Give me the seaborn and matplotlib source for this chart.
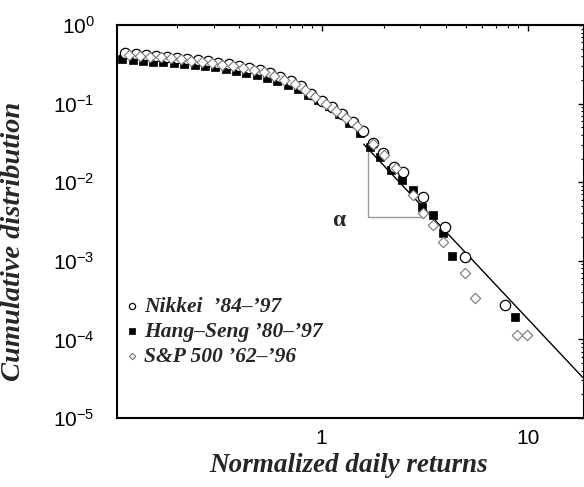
import numpy as np
import pandas as pd
import matplotlib
matplotlib.use("Agg")
import matplotlib.pyplot as plt
import seaborn as sns
from matplotlib.ticker import NullFormatter, LogLocator

# ---------------- data ----------------
nikkei_x = [0.112, 0.126, 0.141, 0.158, 0.178, 0.200, 0.224, 0.251, 0.282, 0.316,
            0.355, 0.398, 0.447, 0.501, 0.562, 0.631, 0.708, 0.794, 0.891, 1.0,
            1.122, 1.259, 1.413, 1.585, 1.778, 1.995, 2.239, 2.49, 3.11, 3.97,
            4.96, 7.74]
nikkei_y = [0.440, 0.428, 0.415, 0.403, 0.392, 0.380, 0.369, 0.359, 0.348, 0.329,
            0.319, 0.301, 0.284, 0.268, 0.245, 0.218, 0.194, 0.168, 0.132, 0.108,
            0.0905, 0.0738, 0.0583, 0.0448, 0.0315, 0.0235, 0.0156, 0.0135, 0.00648, 0.00269,
            0.00112, 0.000274]

hangseng_x = [0.108, 0.122, 0.136, 0.153, 0.171, 0.193, 0.216, 0.243, 0.272, 0.305,
              0.343, 0.385, 0.432, 0.484, 0.543, 0.610, 0.684, 0.767, 0.861, 0.966,
              1.084, 1.216, 1.365, 1.531, 1.718, 1.928, 2.163, 2.46, 2.78, 3.07,
              3.48, 3.88, 4.30, 8.65]
hangseng_y = [0.369, 0.359, 0.348, 0.342, 0.334, 0.329, 0.319, 0.310, 0.301, 0.292,
              0.275, 0.260, 0.245, 0.231, 0.212, 0.194, 0.172, 0.153, 0.129, 0.111,
              0.0932, 0.0738, 0.0567, 0.0423, 0.0281, 0.0209, 0.0143, 0.0107, 0.00796, 0.00483,
              0.00383, 0.00226, 0.00115, 0.000193]

sp500_x = [0.117, 0.132, 0.148, 0.166, 0.186, 0.209, 0.234, 0.263, 0.295, 0.331,
           0.372, 0.417, 0.468, 0.525, 0.589, 0.661, 0.741, 0.832, 0.933, 1.047,
           1.175, 1.318, 1.479, 1.78, 2.0, 2.3, 2.78, 3.11, 3.48, 3.88,
           4.96, 5.55, 8.86, 9.90]
sp500_y = [0.421, 0.409, 0.397, 0.386, 0.375, 0.364, 0.353, 0.343, 0.329, 0.314,
           0.301, 0.284, 0.268, 0.249, 0.224, 0.200, 0.175, 0.149, 0.121, 0.0989,
           0.0805, 0.0656, 0.0519, 0.0305, 0.022, 0.0150, 0.00687, 0.00406, 0.00285, 0.00173,
           0.000700, 0.000336, 0.000114, 0.000114]

fit_x = [1.6, 18.4]
fit_y = [0.0305, 3.3e-5]

triangle_x = [1.67, 1.67, 3.07]
triangle_y = [0.0257, 0.0036, 0.0036]

series_labels = ["Nikkei  \u201984\u2013\u201997",
                 "Hang\u2013Seng \u201980\u2013\u201997",
                 "S&P 500 \u201962\u2013\u201996"]
ytick_values = [1e0, 1e-1, 1e-2, 1e-3, 1e-4, 1e-5]
ytick_labels = [r"$\mathregular{10^{0}}$", r"$\mathregular{10^{-1}}$", r"$\mathregular{10^{-2}}$",
                r"$\mathregular{10^{-3}}$", r"$\mathregular{10^{-4}}$", r"$\mathregular{10^{-5}}$"]
xtick_values = [1, 10]
xtick_labels = ["1", "10"]
x_title = "Normalized daily returns"
y_title = "Cumulative distribution"
alpha_label = "\u03b1"

# ---------------- style ----------------
sns.set_theme(style="white")
plt.rcParams["font.family"] = ["Liberation Sans", "DejaVu Sans"]
plt.rcParams["mathtext.fontset"] = "custom"
plt.rcParams["mathtext.rm"] = "Liberation Sans"

fig = plt.figure(figsize=(5.84, 4.87), dpi=100)
ax = fig.add_axes([117 / 584, 1 - 418 / 487, (583.5 - 117) / 584, (418 - 25) / 487])
ax.set_xscale("log")
ax.set_yscale("log")

serif = dict(family=["Liberation Serif", "DejaVu Serif"], weight="bold", style="italic")

# fitted power law line and triangle
sns.lineplot(x=fit_x, y=fit_y, ax=ax, color="black", linewidth=1.0, zorder=1)
ax.plot(triangle_x, triangle_y, color="#999999", linewidth=1.0, zorder=1)

sns.scatterplot(x=nikkei_x, y=nikkei_y, ax=ax, marker="o", s=55, facecolor="white",
                edgecolor="black", linewidth=0.9, label=series_labels[0], zorder=3)
sns.scatterplot(x=hangseng_x, y=hangseng_y, ax=ax, marker="s", s=40, facecolor="black",
                edgecolor="black", linewidth=0.5, label=series_labels[1], zorder=2)
sns.scatterplot(x=sp500_x, y=sp500_y, ax=ax, marker="D", s=28, facecolor="white",
                edgecolor="#777777", linewidth=0.8, label=series_labels[2], zorder=4)

ax.text(1.21, 0.0033, alpha_label, ha="center", va="center", fontsize=17,
        family=["Liberation Serif", "DejaVu Serif"], weight="bold")

ax.set_xlim(0.102, 18.6)
ax.set_ylim(1e-5, 1e0)

ax.set_xticks(xtick_values, labels=xtick_labels)
ax.set_yticks(ytick_values, labels=ytick_labels)
ax.xaxis.set_minor_locator(LogLocator(base=10, subs=np.arange(2, 10) * 1.0, numticks=20))
ax.yaxis.set_minor_locator(LogLocator(base=10, subs=np.arange(2, 10) * 1.0, numticks=20))
ax.xaxis.set_minor_formatter(NullFormatter())
ax.yaxis.set_minor_formatter(NullFormatter())

ax.tick_params(which="both", direction="in", top=True, right=True, colors="black")
ax.tick_params(which="major", length=4.5, width=1.0, labelsize=15)
ax.tick_params(which="minor", length=2.3, width=0.8)
ax.tick_params(axis="y", which="major", pad=16)
ax.tick_params(axis="x", which="major", pad=8)

for sp in ax.spines.values():
    sp.set_color("black")
    sp.set_linewidth(1.5)
    sp.set_visible(True)

ax.set_xlabel(x_title, fontsize=19.5, **serif)
ax.set_ylabel(y_title, fontsize=20.5, **serif)
ax.xaxis.set_label_coords(0.497, -0.088)
ax.yaxis.set_label_coords(-0.195, 0.45)

leg = ax.legend(loc="upper left", bbox_to_anchor=(0.019, 0.308), frameon=False,
                handlelength=0.55, handletextpad=0.3, borderpad=0, borderaxespad=0,
                labelspacing=0.22, markerscale=0.6, scatterpoints=1,
                prop=dict(family="Liberation Serif", weight="bold", style="italic", size=15.5))

ax.grid(False)
fig.savefig("out.png", dpi=100)
